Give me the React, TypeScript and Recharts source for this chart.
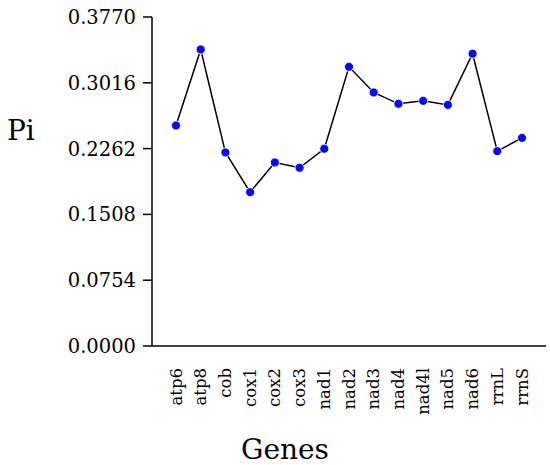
import React from "react";
import { LineChart, Line, XAxis, YAxis } from "recharts";

const genes = ["atp6", "atp8", "cob", "cox1", "cox2", "cox3", "nad1", "nad2", "nad3", "nad4", "nad4l", "nad5", "nad6", "rrnL", "rrnS"];
const piValues = [0.2527, 0.3398, 0.2218, 0.1763, 0.2103, 0.2042, 0.2260, 0.3199, 0.2905, 0.2775, 0.2809, 0.2763, 0.3349, 0.2233, 0.2385];
const yTicks = [0, 0.0754, 0.1508, 0.2262, 0.3016, 0.377];

const data = genes.map((g, i) => ({ gene: g, pi: piValues[i] }));

const font = "'DejaVu Serif', serif";

function GeneTick(props: any) {
    const { x, y, payload } = props;
    return (
        <text
            x={x}
            y={y}
            transform={`rotate(-90, ${x}, ${y})`}
            textAnchor="end"
            dominantBaseline="central"
            fontFamily={font}
            fontSize={16.5}
            fill="#000"
        >
            {payload.value}
        </text>
    );
}

export default function App() {
    return (
        <div style={{ position: "absolute", left: 0, top: 0, background: "#fff" }}>
            <LineChart
                width={550}
                height={465}
                data={data}
                margin={{ top: 17, right: 4, bottom: 0, left: 0 }}
            >
                <XAxis
                    dataKey="gene"
                    height={119}
                    padding={{ left: 24, right: 24 }}
                    tickLine={false}
                    axisLine={{ stroke: "#000", strokeWidth: 1.5 }}
                    tick={<GeneTick />}
                    tickMargin={16}
                    interval={0}
                />
                <YAxis
                    width={152}
                    domain={[0, 0.377]}
                    ticks={yTicks}
                    tickFormatter={(v: number) => v.toFixed(4)}
                    tickSize={9}
                    tickMargin={7}
                    tickLine={{ stroke: "#000", strokeWidth: 1.5 }}
                    axisLine={{ stroke: "#000", strokeWidth: 1.5 }}
                    tick={{ fill: "#000", fontFamily: font, fontSize: 19.5 }}
                    interval={0}
                />
                <Line
                    dataKey="pi"
                    stroke="#000"
                    strokeWidth={1.5}
                    dot={{ r: 4.5, fill: "#0a0ae8", stroke: "#fff", strokeWidth: 0.8 }}
                    activeDot={false}
                    isAnimationActive={false}
                />
                <text x={7} y={140} fontFamily={font} fontSize={28} fill="#000">
                    Pi
                </text>
                <text x={285} y={459} textAnchor="middle" fontFamily={font} fontSize={28} fill="#000">
                    Genes
                </text>
            </LineChart>
        </div>
    );
}
